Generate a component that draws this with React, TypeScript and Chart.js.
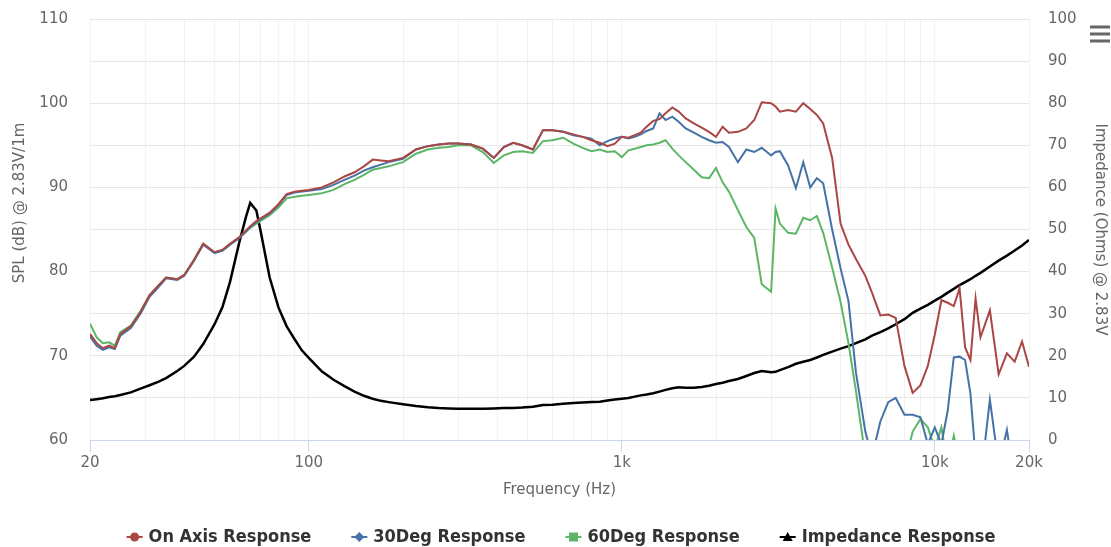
import React, { useEffect, useRef } from "react";
import { Chart, registerables } from "chart.js";

Chart.register(...registerables);

// Frequencies (Hz) at which the curves were read
const FREQS = [
  20, 21, 22, 23, 24, 25, 27, 29, 31, 33,
  35, 38, 40, 43, 46, 50, 53, 56, 60, 63,
  65, 68, 70, 75, 80, 85, 90, 95, 100, 110,
  120, 130, 140, 150, 160, 170, 180, 200, 220, 240,
  260, 280, 300, 330, 360, 390, 420, 450, 480, 520,
  560, 600, 650, 700, 750, 800, 850, 900, 950, 1000,
  1050, 1100, 1150, 1200, 1260, 1320, 1380, 1450, 1520, 1600,
  1700, 1800, 1900, 2000, 2100, 2200, 2350, 2500, 2650, 2800,
  3000, 3100, 3200, 3400, 3600, 3800, 4000, 4200, 4400, 4700,
  5000, 5300, 5600, 6000, 6300, 6700, 7100, 7500, 8000, 8500,
  9000, 9500, 10000, 10500, 11000, 11500, 12000, 12500, 13000, 13500,
  14000, 15000, 16000, 17000, 18000, 19000, 20000,
];

// SPL (dB) – On Axis
const ON_AXIS = [
  72.6, 71.5, 70.9, 71.2, 70.9, 72.6, 73.5, 75.2, 77.2, 78.3,
  79.3, 79.1, 79.6, 81.4, 83.3, 82.3, 82.6, 83.3, 84.1, 84.9,
  85.4, 86.0, 86.3, 87.0, 88.0, 89.2, 89.5, 89.6, 89.7, 90.0,
  90.6, 91.3, 91.8, 92.5, 93.3, 93.2, 93.1, 93.5, 94.5, 94.9,
  95.1, 95.2, 95.2, 95.1, 94.6, 93.5, 94.8, 95.3, 95.0, 94.5,
  96.8, 96.8, 96.6, 96.3, 96.0, 95.6, 95.3, 94.9, 95.2, 96.0,
  95.9, 96.2, 96.5, 97.2, 97.9, 98.1, 98.8, 99.5, 99.0, 98.2,
  97.6, 97.1, 96.6, 96.0, 97.2, 96.5, 96.6, 97.0, 98.0, 100.1,
  100.0, 99.6, 99.0, 99.2, 99.0, 100.0, 99.3, 98.6, 97.6, 93.5,
  85.7, 83.2, 81.5, 79.5, 77.5, 74.8, 74.9, 74.5, 68.8, 65.6,
  66.5, 68.8, 72.5, 76.6, 76.3, 75.9, 78.0, 71.0, 69.5, 76.8,
  72.2, 75.4, 67.8, 70.3, 69.3, 71.7, 68.7,
];

// SPL (dB) – 30 degrees
const DEG30 = [
  72.3, 71.2, 70.7, 71.0, 70.8, 72.4, 73.3, 75.0, 77.0, 78.1,
  79.2, 79.0, 79.5, 81.3, 83.2, 82.2, 82.5, 83.2, 84.0, 84.8,
  85.3, 85.9, 86.2, 86.9, 87.9, 89.1, 89.4, 89.5, 89.6, 89.8,
  90.3, 90.9, 91.4, 92.0, 92.4, 92.7, 93.0, 93.4, 94.5, 94.9,
  95.1, 95.2, 95.2, 95.1, 94.6, 93.5, 94.8, 95.3, 95.0, 94.5,
  96.8, 96.8, 96.6, 96.2, 96.0, 95.8, 95.0, 95.5, 95.8, 96.0,
  95.8, 96.0, 96.3, 96.7, 97.0, 98.8, 98.0, 98.4, 97.8, 97.0,
  96.5, 96.0, 95.6, 95.3, 95.4, 94.8, 93.0, 94.5, 94.2, 94.7,
  93.8, 94.2, 94.3, 92.6, 89.9, 93.0, 90.0, 91.1, 90.5, 85.0,
  80.4, 76.5, 68.0, 61.0, 58.0, 62.2, 64.5, 65.0, 63.0, 63.0,
  62.7, 59.5, 61.5, 59.5, 63.5, 69.8, 69.9, 69.5, 65.5, 58.0,
  55.0, 64.8, 57.0, 61.2, 55.0, 55.0, 55.0,
];

// SPL (dB) – 60 degrees
const DEG60 = [
  73.8, 72.2, 71.5, 71.6, 71.2, 72.8, 73.6, 75.3, 77.2, 78.3,
  79.3, 79.1, 79.6, 81.4, 83.3, 82.3, 82.5, 83.2, 84.0, 84.7,
  85.2, 85.7, 86.0, 86.7, 87.6, 88.7, 88.9, 89.0, 89.1, 89.3,
  89.7, 90.4, 90.9, 91.5, 92.1, 92.3, 92.5, 93.0, 94.0, 94.5,
  94.7, 94.8, 95.0, 95.0, 94.2, 92.9, 93.8, 94.2, 94.3, 94.1,
  95.5, 95.6, 95.9, 95.2, 94.7, 94.3, 94.5, 94.2, 94.3, 93.6,
  94.4, 94.6, 94.8, 95.0, 95.1, 95.3, 95.6, 94.6, 93.8, 93.0,
  92.1, 91.2, 91.1, 92.3, 90.6, 89.5, 87.3, 85.3, 84.0, 78.5,
  77.6, 87.5, 85.7, 84.6, 84.5, 86.4, 86.1, 86.6, 84.6, 80.5,
  76.4, 71.5, 65.8, 58.0, 55.0, 55.0, 55.0, 55.0, 57.0, 61.0,
  62.5, 61.5, 59.0, 61.5, 57.0, 60.5, 57.0, 58.0, 56.0, 55.0,
  55.0, 56.0, 55.0, 55.0, 55.0, 55.0, 55.0,
];

// Impedance (Ohms)
const IMPEDANCE = [
  9.5, 9.7, 9.9, 10.2, 10.4, 10.7, 11.3, 12.2, 13.0, 13.8,
  14.7, 16.4, 17.6, 19.8, 22.8, 27.5, 31.6, 37.5, 47.0, 53.0,
  56.3, 54.5, 50.0, 38.6, 31.5, 27.0, 24.0, 21.3, 19.5, 16.3,
  14.3, 12.8, 11.5, 10.5, 9.8, 9.3, 9.0, 8.5, 8.1, 7.8,
  7.6, 7.5, 7.4, 7.4, 7.4, 7.5, 7.6, 7.6, 7.7, 7.9,
  8.3, 8.4, 8.6, 8.8, 8.9, 9.0, 9.1, 9.4, 9.6, 9.8,
  10.0, 10.3, 10.6, 10.8, 11.1, 11.5, 11.9, 12.3, 12.5, 12.4,
  12.4, 12.6, 12.9, 13.3, 13.6, 14.0, 14.5, 15.2, 15.9, 16.4,
  16.1, 16.2, 16.6, 17.3, 18.1, 18.6, 19.0, 19.6, 20.2, 21.0,
  21.7, 22.3, 23.0, 23.9, 24.8, 25.6, 26.5, 27.5, 28.7, 30.2,
  31.2, 32.1, 33.1, 34.0, 35.0, 35.9, 36.8, 37.5, 38.2, 39.0,
  39.7, 41.2, 42.6, 43.8, 45.0, 46.2, 47.5,
];

const X_GRID_TICKS = [
  20, 30, 40, 50, 60, 70, 80, 90,
  100, 200, 300, 400, 500, 600, 700, 800, 900,
  1000, 2000, 3000, 4000, 5000, 6000, 7000, 8000, 9000,
  10000, 20000,
];
const X_LABELS: Record<number, string> = { 20: "20", 100: "100", 1000: "1k", 10000: "10k", 20000: "20k" };

const SERIES_NAMES = ["On Axis Response", "30Deg Response", "60Deg Response", "Impedance Response"];
const SERIES_COLORS = ["#AA4643", "#4572A7", "#5DB665", "#000000"];
const SERIES_SYMBOLS = ["circle", "diamond", "square", "triangle"];

const Y_LEFT_TITLE = "SPL (dB) @ 2.83V/1m";
const Y_RIGHT_TITLE = "Impedance (Ohms) @ 2.83V";
const X_TITLE = "Frequency (Hz)";

const FONT = "'DejaVu Sans', sans-serif";

const extrasPlugin = {
  id: "extras",
  afterDraw(chart: any) {
    const ctx = chart.ctx as CanvasRenderingContext2D;
    // left axis title
    ctx.save();
    ctx.translate(20, 203);
    ctx.rotate(-Math.PI / 2);
    ctx.font = `15px ${FONT}`;
    ctx.fillStyle = "#666666";
    ctx.textAlign = "center";
    ctx.textBaseline = "middle";
    ctx.fillText(Y_LEFT_TITLE, 0, 0);
    ctx.restore();

    // legend
    ctx.save();
    ctx.font = `bold 18px 'DejaVu Sans Condensed', 'DejaVu Sans', sans-serif`;
    const symW = 16;
    const textOff = 22;
    const gap = 40;
    const widths = SERIES_NAMES.map((n) => textOff + ctx.measureText(n).width);
    const total = widths.reduce((a, b) => a + b, 0) + gap * (widths.length - 1);
    let x = 561 - total / 2;
    const y = 537;
    SERIES_NAMES.forEach((name, i) => {
      const c = SERIES_COLORS[i];
      ctx.strokeStyle = c;
      ctx.fillStyle = c;
      ctx.lineWidth = 2;
      ctx.beginPath();
      ctx.moveTo(x, y);
      ctx.lineTo(x + symW, y);
      ctx.stroke();
      const cx = x + symW / 2;
      ctx.beginPath();
      const s = SERIES_SYMBOLS[i];
      if (s === "circle") {
        ctx.arc(cx, y, 4.5, 0, Math.PI * 2);
      } else if (s === "diamond") {
        ctx.moveTo(cx, y - 5);
        ctx.lineTo(cx + 5, y);
        ctx.lineTo(cx, y + 5);
        ctx.lineTo(cx - 5, y);
        ctx.closePath();
      } else if (s === "square") {
        ctx.rect(cx - 4.5, y - 4.5, 9, 9);
      } else {
        ctx.moveTo(cx, y - 5);
        ctx.lineTo(cx + 5, y + 4);
        ctx.lineTo(cx - 5, y + 4);
        ctx.closePath();
      }
      ctx.fill();
      ctx.fillStyle = "#333333";
      ctx.textAlign = "left";
      ctx.textBaseline = "middle";
      ctx.fillText(name, x + textOff, y);
      x += widths[i] + gap;
    });
    ctx.restore();

    // menu icon
    ctx.save();
    ctx.fillStyle = "#666666";
    [27, 34, 41].forEach((yy) => {
      ctx.fillRect(1090, yy - 1.5, 20, 3);
    });
    ctx.restore();
  },
};

export default function App() {
  const ref = useRef<HTMLCanvasElement | null>(null);

  useEffect(() => {
    if (!ref.current) return;
    const pts = (ys: number[]) => FREQS.map((f, i) => ({ x: f, y: ys[i] }));
    const seriesData = [ON_AXIS, DEG30, DEG60, IMPEDANCE];
    const chart = new Chart(ref.current, {
      type: "line",
      data: {
        datasets: seriesData.map((d, i) => ({
          label: SERIES_NAMES[i],
          data: pts(d),
          borderColor: SERIES_COLORS[i],
          backgroundColor: SERIES_COLORS[i],
          borderWidth: i === 3 ? 2.5 : 2,
          pointRadius: 0,
          tension: 0,
          yAxisID: i === 3 ? "y1" : "y",
        })),
      },
      options: {
        animation: false,
        responsive: false,
        devicePixelRatio: 1,
        layout: { padding: { top: 19, bottom: 37, left: 0, right: 0 } },
        plugins: { legend: { display: false }, tooltip: { enabled: false } },
        font: { family: FONT },
        scales: {
          x: {
            type: "logarithmic",
            min: 20,
            max: 20000,
            afterBuildTicks: (s: any) => {
              s.ticks = X_GRID_TICKS.map((v) => ({ value: v }));
            },
            afterFit: (s: any) => {
              s.height = 70;
              s.paddingLeft = 0;
              s.paddingRight = 0;
            },
            ticks: {
              autoSkip: false,
              maxRotation: 0,
              minRotation: 0,
              padding: 2,
              color: "#666666",
              font: { family: FONT, size: 15 },
              callback: (v: any) => X_LABELS[Number(v)] ?? "",
            },
            grid: {
              color: "#f2f2f2",
              tickColor: (c: any) => (c.tick && X_LABELS[c.tick.value] ? "#ccd6eb" : "rgba(0,0,0,0)"),
              tickLength: 12,
              lineWidth: 1,
            },
            border: { color: "#ccd6eb", width: 1 },
            title: {
              display: true,
              text: X_TITLE,
              color: "#666666",
              font: { family: FONT, size: 15 },
              padding: { top: 0, bottom: 11 },
            },
          },
          y: {
            position: "left",
            min: 60,
            max: 110,
            afterFit: (s: any) => {
              s.width = 90;
              s.paddingTop = 0;
              s.paddingBottom = 0;
            },
            ticks: {
              stepSize: 10,
              padding: 22,
              color: "#666666",
              font: { family: FONT, size: 15 },
            },
            grid: { display: false, drawTicks: false },
            border: { display: false },
          },
          y1: {
            position: "right",
            min: 0,
            max: 100,
            afterFit: (s: any) => {
              s.width = 82;
              s.paddingTop = 0;
              s.paddingBottom = 0;
            },
            ticks: {
              stepSize: 10,
              padding: 19,
              color: "#666666",
              font: { family: FONT, size: 15 },
            },
            grid: { color: "#e6e6e6", drawTicks: false },
            border: { display: false },
            title: {
              display: true,
              text: Y_RIGHT_TITLE,
              color: "#666666",
              font: { family: FONT, size: 15 },
              padding: { top: 2, bottom: 0 },
            },
          },
        },
      } as any,
      plugins: [extrasPlugin],
    });
    return () => chart.destroy();
  }, []);

  return (
    <div style={{ position: "fixed", left: 0, top: 0, width: 1111, height: 547, background: "#ffffff", overflow: "hidden" }}>
      <canvas ref={ref} width={1111} height={547} style={{ display: "block", width: 1111, height: 547 }} />
    </div>
  );
}
